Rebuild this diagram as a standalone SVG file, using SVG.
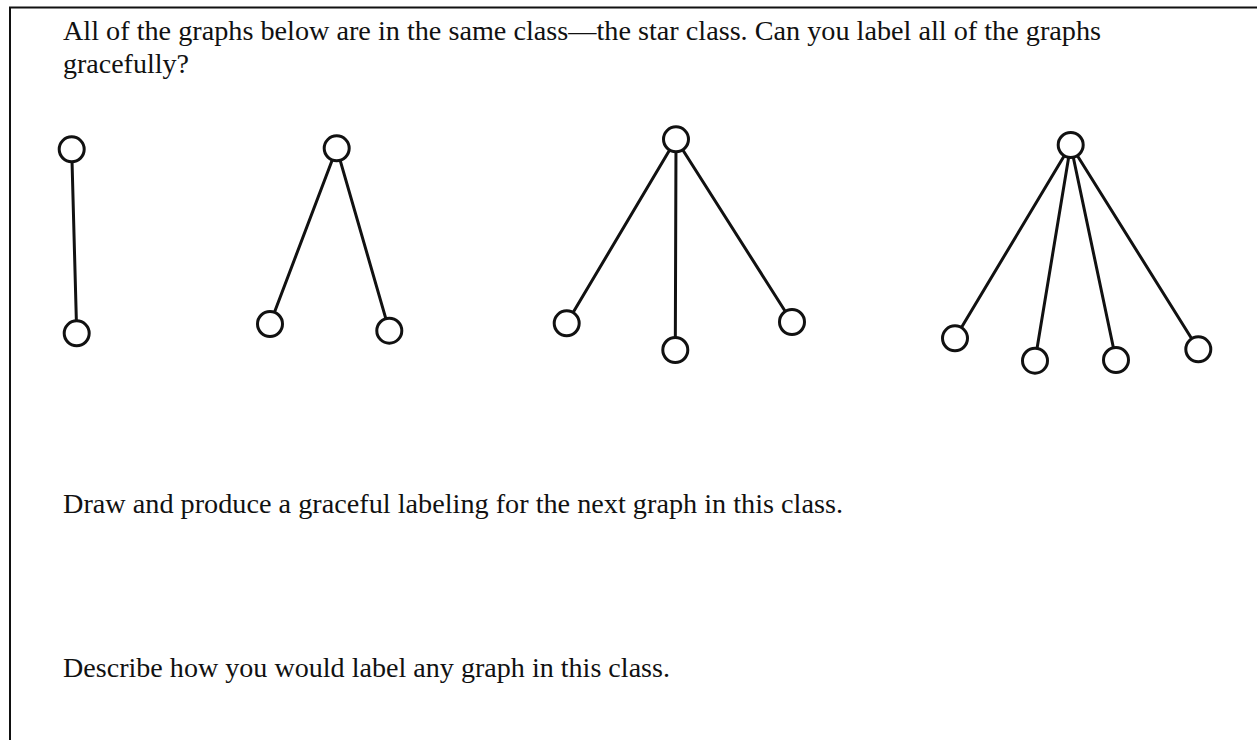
<svg xmlns="http://www.w3.org/2000/svg" width="1257" height="740" viewBox="0 0 1257 740">
<style>
.t{font-family:"Liberation Serif","Times New Roman",serif;font-size:28px;fill:#111}
.e{stroke:#111;stroke-width:3;stroke-linecap:round}
.n{fill:#fff;stroke:#111;stroke-width:3}
.b{stroke:#111;stroke-width:2;fill:none}
</style>
<rect width="1257" height="740" fill="#fff"/>
<path class="b" d="M10,740 V7.5 H1257"/>
<text class="t" x="63" y="40" textLength="1038" lengthAdjust="spacingAndGlyphs">All of the graphs below are in the same class—the star class. Can you label all of the graphs</text>
<text class="t" x="63" y="73">gracefully?</text>
<text class="t" x="63" y="513" textLength="780" lengthAdjust="spacingAndGlyphs">Draw and produce a graceful labeling for the next graph in this class.</text>
<text class="t" x="63" y="677" textLength="607" lengthAdjust="spacingAndGlyphs">Describe how you would label any graph in this class.</text>
<g id="connectors">
<line class="e" x1="71.7" y1="149.3" x2="76.7" y2="333.3"/>
<line class="e" x1="336.7" y1="148.3" x2="270" y2="324"/>
<line class="e" x1="336.7" y1="148.3" x2="389.3" y2="330.7"/>
<line class="e" x1="676" y1="139.3" x2="566.7" y2="323.3"/>
<line class="e" x1="676" y1="139.3" x2="675.3" y2="350"/>
<line class="e" x1="676" y1="139.3" x2="792" y2="322"/>
<line class="e" x1="1070.7" y1="145" x2="955" y2="338.3"/>
<line class="e" x1="1070.7" y1="145" x2="1035" y2="360.7"/>
<line class="e" x1="1070.7" y1="145" x2="1116" y2="360"/>
<line class="e" x1="1070.7" y1="145" x2="1198.3" y2="349.3"/>
</g>
<g id="g1-top"><circle class="n" cx="71.7" cy="149.3" r="12.5"/></g>
<g id="g1-bottom"><circle class="n" cx="76.7" cy="333.3" r="12.5"/></g>
<g id="g2-top"><circle class="n" cx="336.7" cy="148.3" r="12.5"/></g>
<g id="g2-left"><circle class="n" cx="270" cy="324" r="12.5"/></g>
<g id="g2-right"><circle class="n" cx="389.3" cy="330.7" r="12.5"/></g>
<g id="g3-top"><circle class="n" cx="676" cy="139.3" r="12.5"/></g>
<g id="g3-left"><circle class="n" cx="566.7" cy="323.3" r="12.5"/></g>
<g id="g3-mid"><circle class="n" cx="675.3" cy="350" r="12.5"/></g>
<g id="g3-right"><circle class="n" cx="792" cy="322" r="12.5"/></g>
<g id="g4-top"><circle class="n" cx="1070.7" cy="145" r="12.5"/></g>
<g id="g4-a"><circle class="n" cx="955" cy="338.3" r="12.5"/></g>
<g id="g4-b"><circle class="n" cx="1035" cy="360.7" r="12.5"/></g>
<g id="g4-c"><circle class="n" cx="1116" cy="360" r="12.5"/></g>
<g id="g4-d"><circle class="n" cx="1198.3" cy="349.3" r="12.5"/></g>
</svg>
